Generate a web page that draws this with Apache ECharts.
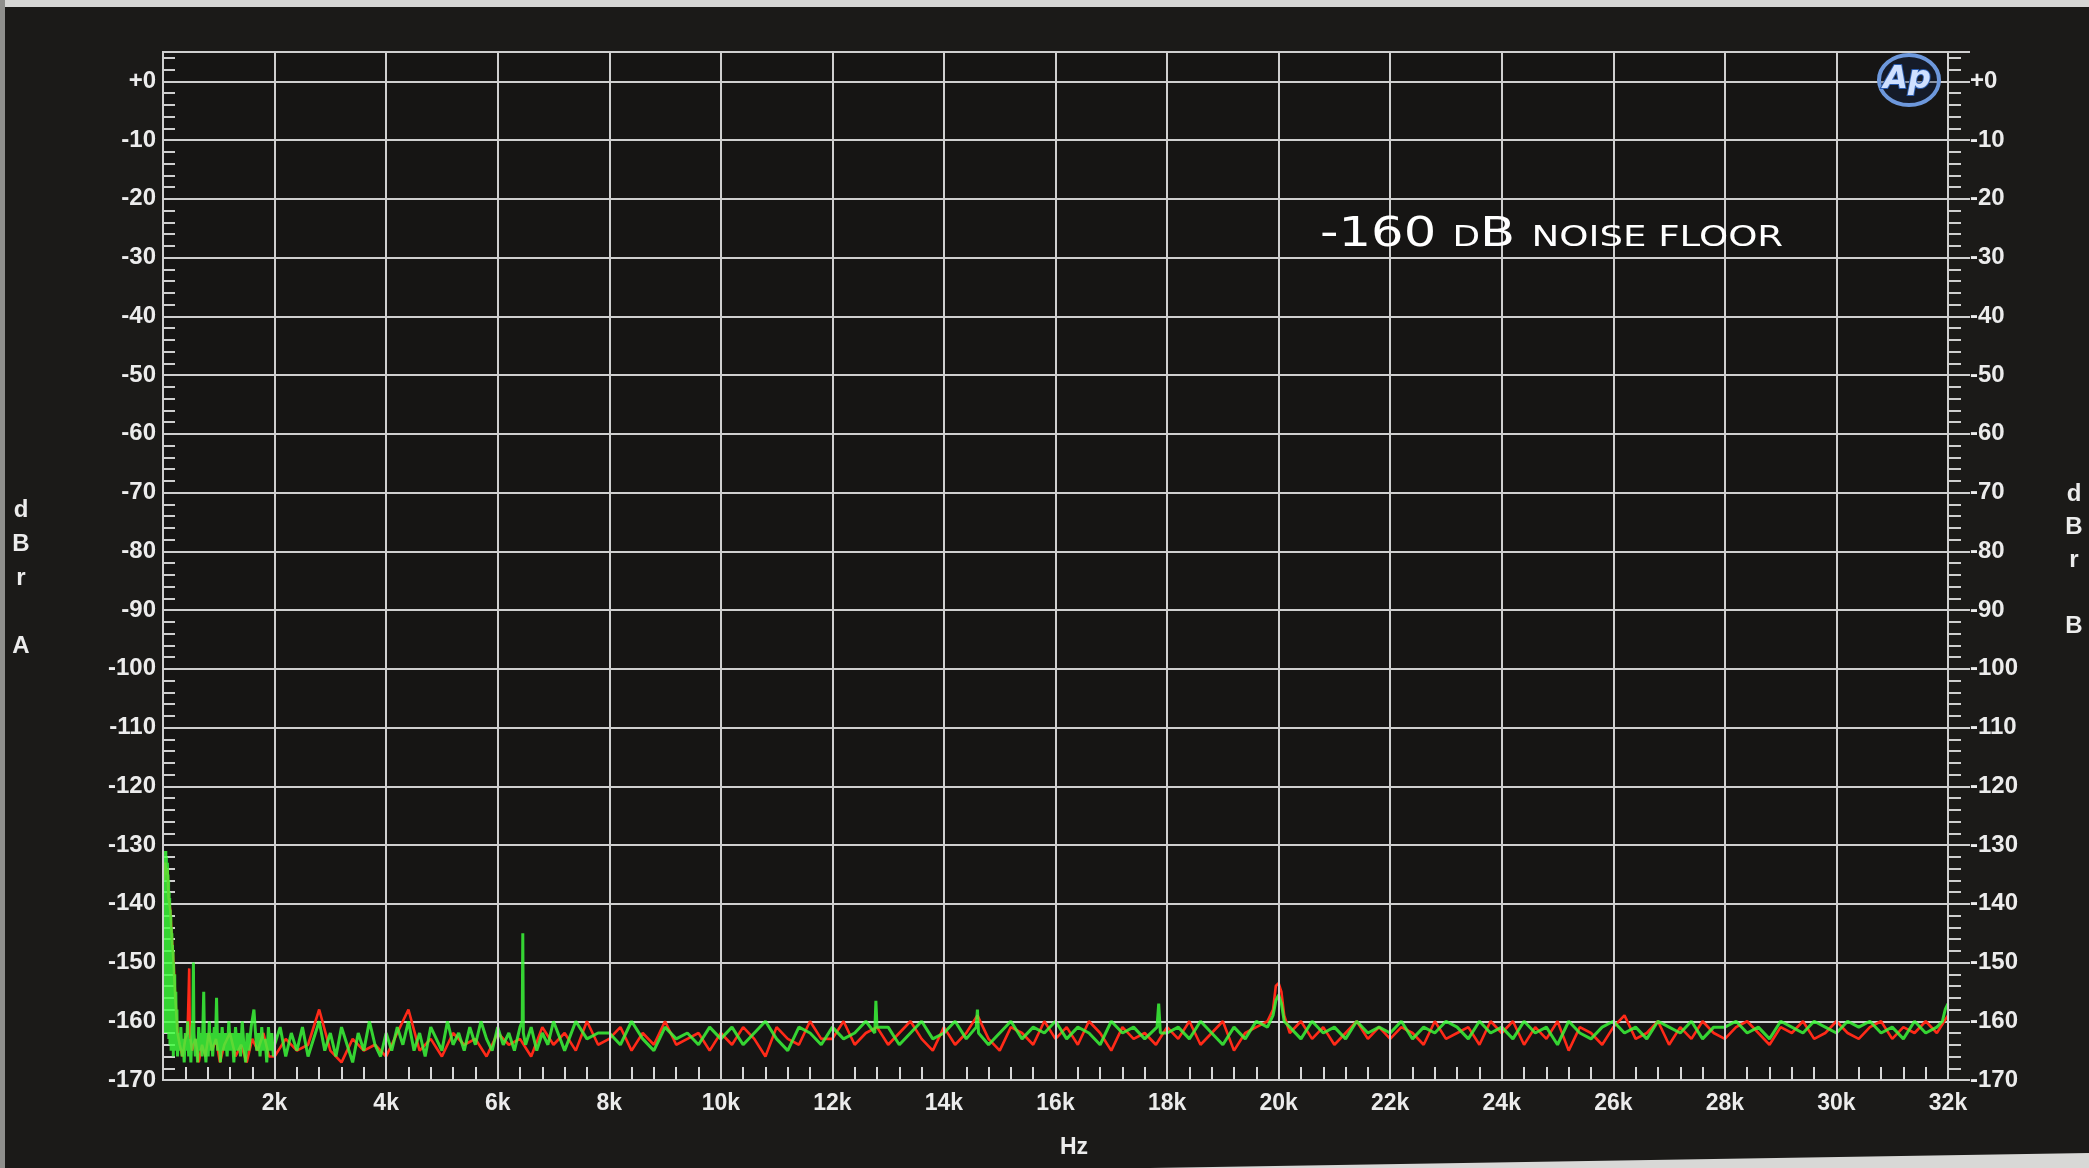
<!DOCTYPE html>
<html><head><meta charset="utf-8">
<script src="https://cdn.jsdelivr.net/npm/echarts@6/dist/echarts.min.js"></script>
<style>html,body{margin:0;padding:0;background:#1b1a18;overflow:hidden}#c{width:2089px;height:1168px}</style>
</head><body><div id="c"></div>
<script>
// ---- tick labels ----
const freqTickLabels = ['', '2k', '4k', '6k', '8k', '10k', '12k', '14k', '16k', '18k', '20k', '22k', '24k', '26k', '28k', '30k', '32k'];
const levelTickValues = [0, -10, -20, -30, -40, -50, -60, -70, -80, -90, -100, -110, -120, -130, -140, -150, -160, -170];
const levelTickLabels = ['+0', '-10', '-20', '-30', '-40', '-50', '-60', '-70', '-80', '-90', '-100', '-110', '-120', '-130', '-140', '-150', '-160', '-170'];

// ---- green channel [Hz, dBrA] ----
const greenLow = [[20,-133],[25,-160],[30,-131],[35,-158],[40,-132],[45,-162],[50,-131],[55,-157],[60,-132],[65,-161],[70,-134],[75,-156],[80,-133],[85,-162],[90,-135],[95,-158],[100,-136],[105,-163],[110,-138],[115,-159],[120,-139],[125,-164],[130,-141],[135,-160],[140,-142],[145,-165],[150,-144],[155,-161],[160,-145],[165,-164],[170,-147],[175,-162],[180,-148],[185,-166],[190,-150],[200,-163],[210,-152],[220,-165],[230,-155],[240,-163],[250,-158],
[260,-166],[280,-162],[300,-165],[320,-161],[340,-166],[360,-163],[380,-167],[400,-162],[420,-165],[440,-160],[460,-166],[480,-163],[500,-167],[520,-161],[535,-160],[545,-150],[555,-162],[580,-166],[600,-163],[620,-167],[640,-161],[660,-165],[680,-162],[700,-166],[715,-161],[730,-155],[745,-164],[770,-167],[790,-162],[810,-166],[830,-160],[850,-165],[870,-162],[890,-166],[920,-161],[940,-164],[960,-156],[980,-165],
[1000,-162],[1030,-167],[1060,-161],[1090,-165],[1120,-162],[1150,-166],[1180,-160],[1210,-165],[1240,-162],[1270,-167],[1300,-161],[1330,-165],[1360,-162],[1390,-166],[1420,-160],[1450,-164],[1480,-167],[1510,-162],[1540,-165],[1580,-161],[1630,-158],[1680,-165],[1710,-162],[1740,-166],[1770,-161],[1800,-165],[1830,-163],[1860,-167],[1890,-161],[1920,-165],[1950,-162],[1980,-166]];
const greenMid = [[2000,-164],[2100,-161],[2200,-166],[2300,-162],[2400,-165],[2500,-161],[2600,-166],[2700,-163],[2800,-160],[2900,-165],[3000,-162],[3100,-166],[3200,-161],[3300,-164],[3400,-167],[3500,-162],[3600,-165],[3700,-160],[3800,-164],[3900,-166],
[4000,-162],[4100,-165],[4200,-161],[4300,-164],[4400,-160],[4500,-165],[4600,-162],[4700,-166],[4800,-161],[4900,-163],[5000,-165],[5100,-160],[5200,-164],[5300,-162],[5400,-165],[5500,-161],[5600,-164],[5700,-160],[5800,-163],[5900,-165],
[6000,-161],[6100,-164],[6200,-162],[6300,-165],[6400,-161],[6440,-160],[6450,-145],[6460,-162],[6500,-164],[6600,-161],[6700,-165],[6800,-162],[6900,-164],[7000,-160],[7200,-165],[7400,-160],[7600,-163],[7800,-162],
[8000,-162],[8200,-164],[8400,-160],[8600,-163],[8800,-165],[9000,-161],[9200,-163],[9400,-162],[9600,-164],[9800,-161],
[10000,-163],[10200,-161],[10400,-164],[10600,-162],[10800,-160],[11000,-163],[11200,-165],[11400,-161],[11600,-162],[11800,-164],
[12000,-161],[12200,-163],[12400,-162],[12600,-160],[12760,-162],[12780,-156.5],[12800,-161],[13000,-161],[13200,-164],[13400,-162],[13600,-160],[13800,-163],
[14000,-162],[14200,-160],[14400,-163],[14580,-161],[14600,-158],[14620,-162],[14800,-164],[15000,-162],[15200,-160],[15400,-163],[15600,-161],[15800,-162],
[16000,-160],[16200,-163],[16400,-161],[16600,-162],[16800,-164],[17000,-160],[17200,-162],[17400,-161],[17600,-163],[17820,-161],[17850,-157],[17880,-162],
[18000,-162],[18200,-161],[18400,-163],[18600,-160],[18800,-162],[19000,-164],[19200,-161],[19400,-163],[19600,-160],[19800,-161]];
const greenHigh = [[19900,-159],[19950,-156.5],[20000,-155.5],[20050,-157],[20100,-160],[20200,-161],[20400,-163],[20600,-160],[20800,-162],[21000,-161],[21200,-163],[21400,-160],[21600,-162],[21800,-161],
[22000,-162],[22200,-160],[22400,-163],[22600,-161],[22800,-162],[23000,-160],[23200,-161],[23400,-163],[23600,-160],[23800,-162],
[24000,-161],[24200,-163],[24400,-160],[24600,-162],[24800,-161],[25000,-164],[25200,-160],[25400,-162],[25600,-163],[25800,-161],
[26000,-160],[26200,-162],[26400,-161],[26600,-163],[26800,-160],[27000,-161],[27200,-162],[27400,-160],[27600,-163],[27800,-161],
[28000,-161],[28200,-160],[28400,-162],[28600,-161],[28800,-163],[29000,-160],[29200,-161],[29400,-162],[29600,-160],[29800,-161],
[30000,-162],[30200,-160],[30400,-161],[30600,-160],[30800,-162],[31000,-161],[31200,-163],[31400,-160],[31600,-162],[31800,-161],[31900,-160],[31950,-158],[32000,-157]];

// ---- red channel [Hz, dBrA] ----
const redLow = [[20,-136],[40,-133],[60,-135],[80,-134],[100,-139],[130,-141],[160,-146],[190,-150],[220,-156],[260,-162],[300,-164],[350,-166],[400,-163],[440,-162],[460,-155],[470,-151],[480,-162],[520,-165],[580,-163],[640,-167],[700,-164],[760,-166],[820,-162],[880,-165],[950,-163],[1020,-167],[1100,-164],[1200,-162],[1300,-166],[1400,-164],[1500,-167],[1600,-163],[1700,-165],[1800,-162],[1900,-166]];
const redMid = [[2000,-166],[2200,-163],[2400,-165],[2600,-164],[2800,-158],[3000,-165],[3200,-167],[3400,-163],[3600,-165],[3800,-164],
[4000,-166],[4200,-162],[4400,-158],[4600,-165],[4800,-163],[5000,-166],[5200,-162],[5400,-164],[5600,-163],[5800,-166],
[6000,-162],[6200,-164],[6400,-163],[6600,-166],[6800,-161],[7000,-164],[7200,-162],[7400,-165],[7600,-160],[7800,-164],
[8000,-163],[8200,-161],[8400,-165],[8600,-162],[8800,-164],[9000,-160],[9200,-164],[9400,-163],[9600,-162],[9800,-165],
[10000,-162],[10200,-164],[10400,-161],[10600,-163],[10800,-166],[11000,-161],[11200,-163],[11400,-164],[11600,-160],[11800,-163],
[12000,-163],[12200,-160],[12400,-164],[12600,-162],[12800,-161],[13000,-164],[13200,-162],[13400,-160],[13600,-163],[13800,-165],
[14000,-161],[14200,-164],[14400,-162],[14600,-159],[14800,-163],[15000,-165],[15200,-161],[15400,-162],[15600,-164],[15800,-160],
[16000,-163],[16200,-161],[16400,-164],[16600,-160],[16800,-162],[17000,-165],[17200,-161],[17400,-163],[17600,-162],[17800,-164],
[18000,-161],[18200,-163],[18400,-160],[18600,-164],[18800,-162],[19000,-160],[19200,-165],[19400,-162],[19600,-161],[19800,-160]];
const redHigh = [[19900,-158],[19950,-154],[20000,-153.5],[20050,-155],[20100,-159],[20200,-162],[20400,-160],[20600,-163],[20800,-161],[21000,-164],[21200,-162],[21400,-160],[21600,-163],[21800,-161],
[22000,-163],[22200,-161],[22400,-162],[22600,-164],[22800,-160],[23000,-163],[23200,-162],[23400,-161],[23600,-164],[23800,-160],
[24000,-162],[24200,-160],[24400,-164],[24600,-161],[24800,-163],[25000,-160],[25200,-165],[25400,-161],[25600,-162],[25800,-164],
[26000,-161],[26200,-159],[26400,-163],[26600,-162],[26800,-160],[27000,-164],[27200,-161],[27400,-163],[27600,-160],[27800,-162],
[28000,-163],[28200,-161],[28400,-160],[28600,-162],[28800,-164],[29000,-161],[29200,-162],[29400,-160],[29600,-163],[29800,-162],
[30000,-160],[30200,-162],[30400,-163],[30600,-161],[30800,-160],[31000,-163],[31200,-161],[31400,-162],[31600,-160],[31800,-162],[32000,-159]];

const greenData = greenLow.concat(greenMid, greenHigh);
const redData = redLow.concat(redMid, redHigh);

const GRID = '#cfcfcf';
const LABEL = '#ececec';
const FONT = "'Liberation Sans Narrow', 'Liberation Sans', Arial, sans-serif";
function levelLabel(v) { const i = levelTickValues.indexOf(v); return i < 0 ? '' : levelTickLabels[i]; }

const chart = echarts.init(document.getElementById('c'), null, { renderer: 'canvas' });
chart.setOption({
  animation: false,
  backgroundColor: '#1b1a18',
  grid: { left: 163, right: 141, top: 52, bottom: 88, show: true, backgroundColor: '#161514', borderColor: GRID, borderWidth: 2 },
  xAxis: {
    type: 'value', min: 0, max: 32000, interval: 2000, z: 10,
    axisLine: { show: true, onZero: false, lineStyle: { color: GRID, width: 2 } },
    axisTick: { show: true, inside: true, length: 14, lineStyle: { color: GRID, width: 2 } },
    minorTick: { show: true, splitNumber: 5, length: 13, lineStyle: { color: '#d8d8d8', width: 2 } },
    splitLine: { show: true, lineStyle: { color: GRID, width: 2 } },
    axisLabel: { color: LABEL, fontFamily: FONT, fontWeight: 'bold', fontSize: 23, margin: 12,
      formatter: v => freqTickLabels[Math.round(v / 2000)] || '' }
  },
  yAxis: [{
    type: 'value', min: -170, max: 5, interval: 10, position: 'left',
    axisLine: { show: true, onZero: false, lineStyle: { color: GRID, width: 2 } },
    axisTick: { show: true, inside: true, length: 12, lineStyle: { color: GRID, width: 2 } },
    minorTick: { show: true, splitNumber: 5, length: 12, lineStyle: { color: GRID, width: 2 } },
    splitLine: { show: true, lineStyle: { color: GRID, width: 2 } },
    axisLabel: { color: LABEL, fontFamily: FONT, fontWeight: 'bold', fontSize: 24, margin: 7, formatter: levelLabel }
  }, {
    type: 'value', min: -170, max: 5, interval: 10, position: 'right',
    axisLine: { show: true, onZero: false, lineStyle: { color: GRID, width: 2 } },
    axisTick: { show: true, inside: false, length: 22, lineStyle: { color: GRID, width: 2 } },
    minorTick: { show: true, splitNumber: 5, length: 13, lineStyle: { color: GRID, width: 2 } },
    splitLine: { show: false },
    axisLabel: { color: LABEL, fontFamily: FONT, fontWeight: 'bold', fontSize: 24, margin: 22, formatter: levelLabel }
  }],
  series: [
    { name: 'B', type: 'line', data: redData, showSymbol: false, symbol: 'none', sampling: 'none',
      lineStyle: { color: '#ff2a18', width: 2.6 }, z: 3 },
    { name: 'A', type: 'line', data: greenData, showSymbol: false, symbol: 'none', sampling: 'none',
      lineStyle: { color: '#3cff3a', width: 3, opacity: 0.82 }, z: 4 }
  ],
  graphic: [
    { type: 'rect', left: 0, top: 0, z: 100, shape: { width: 2089, height: 7 }, style: { fill: '#d6d6d4' } },
    { type: 'rect', left: 0, top: 0, z: 100, shape: { width: 5, height: 1168 }, style: { fill: '#8f8f8c' } },
    { type: 'polygon', z: 100, shape: { points: [[1150, 1168], [2089, 1153], [2089, 1168]] }, style: { fill: '#d8d8d6' } },
    { type: 'text', x: 21, y: 493, z: 100, style: { text: 'd\nB\nr\n\nA', fill: LABEL, font: "bold 24px 'Liberation Sans', Arial, sans-serif", align: 'center', lineHeight: 34 } },
    { type: 'text', x: 2074, y: 478, z: 100, style: { text: 'd\nB\nr\n\nB', fill: LABEL, font: "bold 24px 'Liberation Sans', Arial, sans-serif", align: 'center', lineHeight: 33 } },
    { type: 'text', x: 1074, y: 1148, z: 100, style: { text: 'Hz', fill: LABEL, font: "bold 23px 'Liberation Sans Narrow', 'Liberation Sans', sans-serif", align: 'center', verticalAlign: 'middle' } },
    { type: 'text', x: 1320, y: 232, scaleX: 1.28, scaleY: 1, z: 100, style: {
        text: '{a|-160 dB }{b|NOISE FLOOR}', verticalAlign: 'middle', align: 'left',
        rich: {
          a: { fontSize: 40, fontFamily: 'DejaVu Sans', fontStyle: 'small-caps', fill: '#ffffff', color: '#ffffff', verticalAlign: 'bottom', lineHeight: 48 },
          b: { fontSize: 29, fontFamily: 'DejaVu Sans', fill: '#ffffff', color: '#ffffff', verticalAlign: 'bottom', lineHeight: 48, padding: [0, 0, 3, 0] }
        } } },
    { type: 'ellipse', z: 100, shape: { cx: 1909, cy: 80, rx: 30, ry: 25 }, style: { fill: 'rgba(20,40,80,0.35)', stroke: '#6d98dc', lineWidth: 4 } },
    { type: 'text', x: 1907, y: 80, z: 101, style: { text: 'Ap', font: "italic bold 32px 'DejaVu Sans', sans-serif", fill: '#cfe0ff', stroke: '#2b5cae', lineWidth: 2, align: 'center', verticalAlign: 'middle' } }
  ]
});
</script></body></html>
